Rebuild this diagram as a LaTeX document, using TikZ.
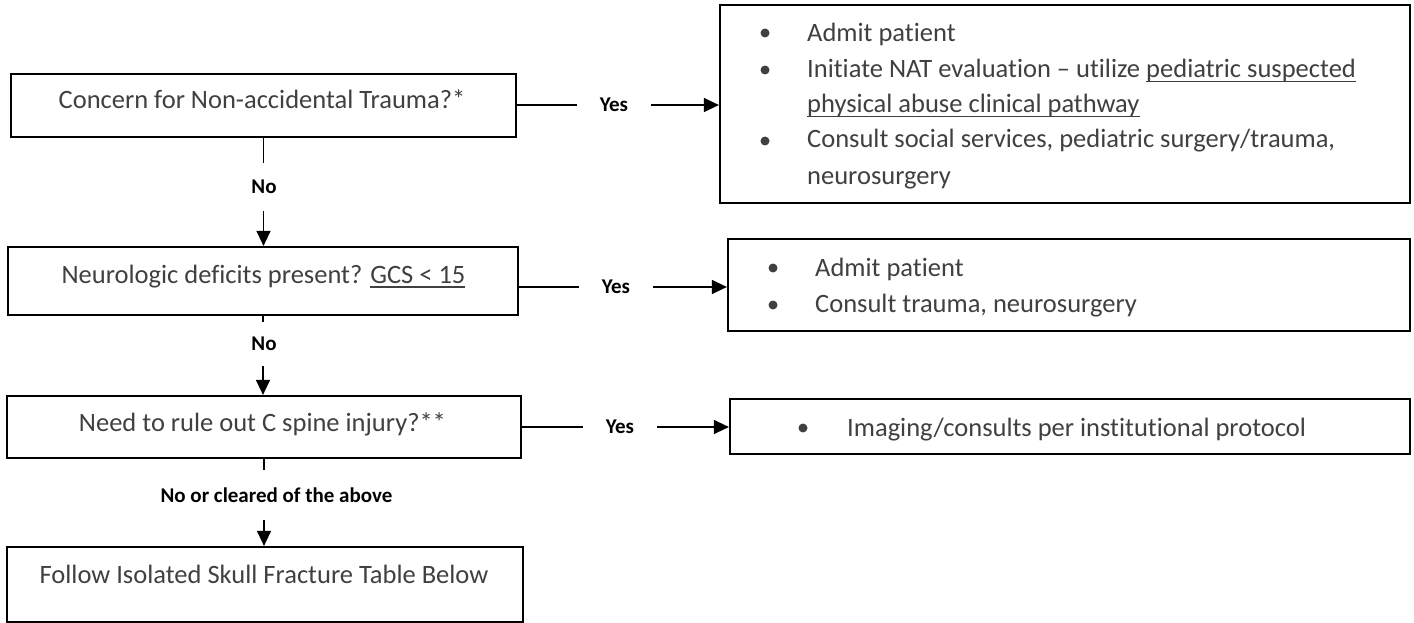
\documentclass[tikz,border=0pt]{standalone}
\usepackage{fontspec}
\setmainfont{Carlito}[Ligatures=CommonOff]
\newcommand{\myul}[1]{\setbox0\hbox{#1}\rlap{\rule[-4.5pt]{\wd0}{1.6pt}}\box0}
\usetikzlibrary{arrows.meta}
\definecolor{txtgray}{HTML}{404040}
\begin{document}
\begin{tikzpicture}[x=1pt,y=-1pt,
  box/.style={draw=black, line width=2.2pt, inner sep=0pt},
  txt/.style={text=txtgray, font=\fontsize{26.5}{35.5}\selectfont, inner sep=0pt, anchor=base},
  ltxt/.style={txt, anchor=base west},
  bul/.style={circle, fill=txtgray, minimum size=9pt, inner sep=0pt},
  lbl/.style={font=\fontsize{21}{25}\selectfont\bfseries, inner sep=0pt},
  conn/.style={line width=1.3pt, draw=black},
  arr/.style={conn, -{Triangle[length=15pt,width=14pt]}}]

\useasboundingbox (0,0) rectangle (1414,623);
\fill[white] (0,0) rectangle (1414,623);

% left column boxes
\node[box, minimum width=505pt, minimum height=63pt] (b1) at (263.5,105.5) {};
\node[box, minimum width=510pt, minimum height=68pt] (b2) at (263,281) {};
\node[box, minimum width=514pt, minimum height=62pt] (b3) at (264,427) {};
\node[box, minimum width=516pt, minimum height=75pt] (b4) at (265,584.5) {};

\node[txt] (t1) at (262,109) {Concern for Non-accidental Trauma?*};
\node[txt] (t2) at (263.5,283) {Neurologic deficits present? \myul{GCS < 15}};
\node[txt] (t3) at (262.5,431) {Need to rule out C spine injury?**};
\node[txt] (t4) at (264,583) {Follow Isolated Skull Fracture Table Below};

% right column boxes
\node[box, minimum width=690pt, minimum height=198pt] (r1) at (1065,104) {};
\node[box, minimum width=682pt, minimum height=92pt] (r2) at (1069,285) {};
\node[box, minimum width=680pt, minimum height=55pt] (r3) at (1070,426.5) {};

\node[bul] (r1b1) at (765,33) {};
\node[bul] (r1b2) at (765,70) {};
\node[bul] (r1b3) at (765,141) {};
\node[ltxt] (r1a) at (807,42) {Admit patient};
\node[ltxt] (r1b) at (807,78) {Initiate NAT evaluation – utilize \myul{pediatric suspected}};
\node[ltxt] (r1c) at (807,113) {\myul{physical abuse clinical pathway}};
\node[ltxt] (r1d) at (807,148) {Consult social services, pediatric surgery/trauma,};
\node[ltxt] (r1e) at (807,184) {neurosurgery};

\node[bul] (r2b1) at (773,268) {};
\node[bul] (r2b2) at (773,305) {};
\node[ltxt] (r2a) at (815,276) {Admit patient};
\node[ltxt] (r2b) at (815,312) {Consult trauma, neurosurgery};

\node[bul] (r3b1) at (803,428) {};
\node[ltxt] (r3a) at (847,436) {Imaging/consults per institutional protocol};

% labels
\node[lbl, minimum width=74pt, minimum height=20pt] (y1) at (614,105) {Yes};
\node[lbl, minimum width=74pt, minimum height=20pt] (y2) at (616,287) {Yes};
\node[lbl, minimum width=74pt, minimum height=20pt] (y3) at (620,427) {Yes};
\node[lbl, minimum width=40pt, minimum height=48pt] (n1) at (264,187) {No};
\node[lbl, minimum width=40pt, minimum height=44pt] (n2) at (264,344) {No};
\node[lbl, minimum width=240pt, minimum height=50pt] (n3) at (276.5,495) {No or cleared of the above};

% horizontal connectors
\draw[conn] (y1 -| b1.east) -- (y1.west);
\draw[arr] (y1.east) -- (y1 -| r1.west);
\draw[conn] (y2 -| b2.east) -- (y2.west);
\draw[arr] (y2.east) -- (y2 -| r2.west);
\draw[conn] (y3 -| b3.east) -- (y3.west);
\draw[arr] (y3.east) -- (y3 -| r3.west);

% vertical connectors
\draw[conn] (b1.south) -- (b1.south |- n1.north);
\draw[arr] (b1.south |- n1.south) -- (b1.south |- b2.north);
\draw[conn] (b2.south) -- (b2.south |- n2.north);
\draw[arr] (b2.south |- n2.south) -- (b2.south |- b3.north);
\draw[conn] (b3.south) -- (b3.south |- n3.north);
\draw[arr] (b3.south |- n3.south) -- (b3.south |- b4.north);
\end{tikzpicture}
\end{document}
